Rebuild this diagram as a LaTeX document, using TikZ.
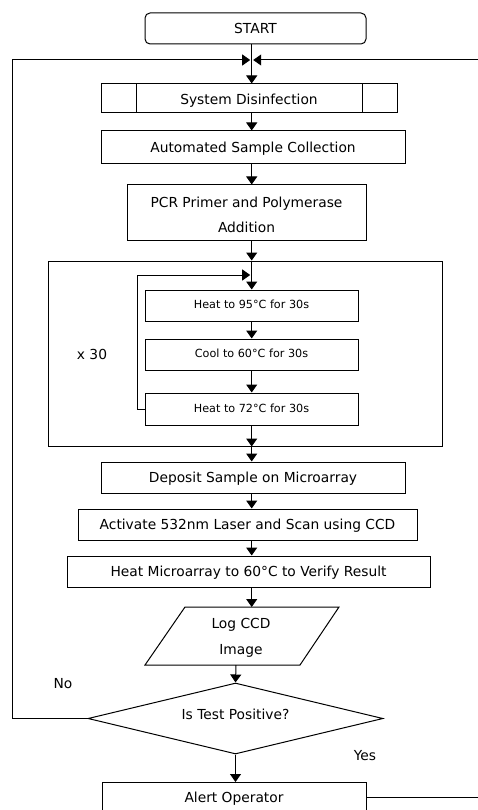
\documentclass[tikz,border=0pt]{standalone}
\usepackage{fontspec}
\setmainfont{DejaVu Sans}
\usetikzlibrary{arrows.meta,shapes.geometric,calc}
\begin{document}
\begin{tikzpicture}[x=1pt,y=-1pt, line width=1pt,
  every node/.style={font=\fontsize{13.8}{16}\selectfont},
  box/.style={draw, rectangle, inner sep=0pt, align=center, text height=12pt, text depth=2pt},
  small/.style={font=\fontsize{11.2}{13}\selectfont, text height=9pt, text depth=2.4pt},
  arr/.style={-{Triangle[length=8pt,width=11pt]}},
  ]
\useasboundingbox (0,0) rectangle (478,810);
\clip (0,0) rectangle (478,810);

\coordinate (j) at (251.7,60);
\coordinate (lft) at (12,0);
\coordinate (rgt) at (500,0);

\node[box, rounded corners=5pt, minimum width=221pt, minimum height=31pt] (start) at (255.5,28.5) {START};
\node[box, minimum width=296pt, minimum height=29pt, text height=13pt, text depth=1pt] (dis) at (249,98.5) {System Disinfection};
\draw ($(dis.north west)+(36,0)$) -- ($(dis.south west)+(36,0)$);
\draw ($(dis.north east)+(-35,0)$) -- ($(dis.south east)+(-35,0)$);
\node[box, minimum width=304pt, minimum height=33pt] (coll) at (253,147.5) {Automated Sample Collection};
\node[draw, rectangle, inner sep=0pt, minimum width=239pt, minimum height=55pt] (pcr) at (246.5,212.5) {};
\node[align=center, font=\fontsize{13.8}{25}\selectfont] (pcrt) at (246.5,215) {PCR Primer and Polymerase\\Addition};
\node[draw, rectangle, inner sep=0pt, minimum width=394pt, minimum height=185pt] (big) at (245,353.5) {};
\node[box, small, minimum width=213pt, minimum height=31pt] (h95) at (251.5,305.5) {Heat to 95°C for 30s};
\node[box, small, minimum width=213pt, minimum height=31pt] (cool) at (251.5,354.5) {Cool to 60°C for 30s};
\node[box, small, minimum width=213pt, minimum height=32pt] (h72) at (251.5,409) {Heat to 72°C for 30s};
\node (x30) at (92,354) {x 30};
\node[box, minimum width=304pt, minimum height=31pt] (dep) at (253,477.5) {Deposit Sample on Microarray};
\node[box, minimum width=339pt, minimum height=31pt] (act) at (247.5,524.5) {Activate 532nm Laser and Scan using CCD};
\node[box, minimum width=363pt, minimum height=31pt] (hma) at (248.5,571.5) {Heat Microarray to 60°C to Verify Result};

\coordinate (lgtl) at (185,607);
\coordinate (lgtr) at (339,607);
\coordinate (lgbr) at (300,665);
\coordinate (lgbl) at (145,665);
\draw (lgtl) -- (lgtr) -- (lgbr) -- (lgbl) -- cycle;
\node[align=center, font=\fontsize{13.8}{26}\selectfont] (log) at (241,638) {Log CCD\\Image};
\coordinate (logtop) at (251.7,607);
\coordinate (logbot) at (236,665);

\node[draw, diamond, aspect=4.15, minimum width=295pt, minimum height=71pt, inner sep=0pt, text height=10.2pt, text depth=9pt] (dia) at (235.5,718.5) {Is Test Positive?};
\node (no) at (63,684) {No};
\node (yes) at (365,756) {Yes};
\node[draw, rectangle, inner sep=0pt, anchor=north, minimum width=264pt, text height=20pt, text depth=25pt] (alert) at (234,782) {Alert Operator};
\coordinate (ae) at ($(alert.north east)+(0,15)$);

% main flow
\draw[arr] (start.south -| j) -- (dis.north -| j);
\draw[arr] (dis.south -| j) -- (coll.north -| j);
\draw[arr] (coll.south -| j) -- (pcr.north -| j);
\draw[arr] (pcr.south -| j) -- (big.north -| j);
\draw[arr] (big.north -| j) -- (h95.north -| j);
\draw[arr] (h95.south -| j) -- (cool.north -| j);
\draw[arr] (cool.south -| j) -- (h72.north -| j);
\draw[arr] (h72.south -| j) -- (big.south -| j);
\draw[arr] (big.south -| j) -- (dep.north -| j);
\draw[arr] (dep.south -| j) -- (act.north -| j);
\draw[arr] (act.south -| j) -- (hma.north -| j);
\draw[arr] (hma.south -| j) -- (logtop);
\draw[arr] (logbot) -- (dia.north);
\draw[arr] (dia.south) -- (alert.north -| dia.south);

% inner loop
\coordinate (lp) at (137,275);
\coordinate (lt) at (251.7,275);
\draw[arr, shorten >=1.5pt] (h72.west) -| (lp) -- (lt);

% outer loops
\draw[arr, shorten >=1.5pt] (dia.west) -| (lft |- j) -- (j);
\draw[arr, shorten >=1.5pt] (ae) -| (rgt |- j) -- (j);
\end{tikzpicture}
\end{document}
